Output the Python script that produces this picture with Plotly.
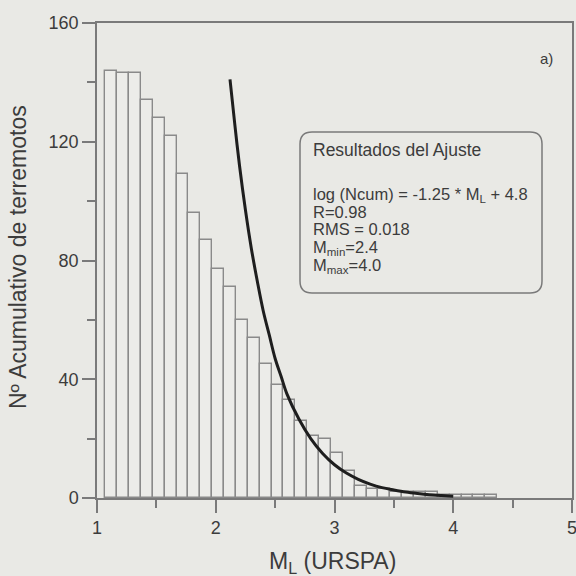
import plotly.graph_objects as go

# Cumulative histogram (bins of 0.1 in ML)
magnitudes = [1.1, 1.2, 1.3, 1.4, 1.5, 1.6, 1.7, 1.8, 1.9, 2.0,
              2.1, 2.2, 2.3, 2.4, 2.5, 2.6, 2.7, 2.8, 2.9, 3.0,
              3.1, 3.2, 3.3, 3.4, 3.5, 3.6, 3.7, 3.8, 3.9, 4.0,
              4.1, 4.2, 4.3]
cumulative_counts = [144, 143, 143, 134, 128, 122, 109, 96, 87, 77,
                     71, 60, 54, 45, 38, 33, 26, 21, 20, 15,
                     9, 4, 3, 3, 2, 2, 2, 2, 1, 1,
                     1, 1, 1]

# Fitted Gutenberg-Richter curve
fit_m = [2.12, 2.16, 2.2, 2.25, 2.3, 2.35, 2.4, 2.45, 2.5, 2.55, 2.6, 2.7, 2.8, 2.9,
         3.0, 3.1, 3.2, 3.3, 3.4, 3.5, 3.6, 3.7, 3.8, 3.9, 4.0]
fit_n = [141, 126, 112, 97, 84, 73, 63, 55, 47, 41, 35, 26.6, 20, 15,
         11.2, 8.4, 6.3, 4.7, 3.5, 2.7, 2.0, 1.5, 1.1, 0.84, 0.63]

x_ticks = [1, 2, 3, 4, 5]
y_ticks = [0, 40, 80, 120, 160]

box_lines = ["log (Ncum) = -1.25 * M<sub>L</sub> + 4.8", "R=0.98", "RMS = 0.018",
             "M<sub>min</sub>=2.4", "M<sub>max</sub>=4.0"]

BG = "#e9e9e5"
AX = "#7a7a7a"
TXT = "#3c3c3c"
FONT = "Liberation Sans, Arial, sans-serif"

fig = go.Figure()
fig.add_trace(go.Bar(
    x=magnitudes, y=cumulative_counts, width=0.1, offset=-0.03,
    marker=dict(color="#ecece9", line=dict(color="#8a8a8a", width=1.4)),
    showlegend=False, hoverinfo="skip"))
fig.add_trace(go.Scatter(
    x=fit_m, y=fit_n, mode="lines", line=dict(color="#1e1e1e", width=3, shape="spline"),
    showlegend=False, hoverinfo="skip"))

W, H = 576, 576
ml, mr, mt, mb = 97, 4, 23, 78
pw, ph = W - ml - mr, H - mt - mb

def px(x):
    return (x - ml) / pw

def py(y):
    return (H - mb - y) / ph

axis_common = dict(showgrid=False, zeroline=False, showline=True, linecolor=AX, linewidth=1.5,
                   mirror=True, ticks="outside", ticklen=13, tickcolor=AX, tickwidth=1.5,
                   tickfont=dict(size=18, color=TXT), automargin=False,
                   ticklabeloverflow="allow")

fig.update_layout(
    width=W, height=H,
    margin=dict(l=ml, r=mr, t=mt, b=mb),
    paper_bgcolor=BG, plot_bgcolor=BG,
    bargap=0,
    font=dict(family=FONT, color=TXT, size=18),
    xaxis=dict(range=[1, 5], tickvals=x_ticks, ticktext=[str(v) for v in x_ticks],
               minor=dict(dtick=0.5, ticks="outside", ticklen=8, tickcolor=AX, tickwidth=1.5),
               **axis_common),
    yaxis=dict(range=[0, 160], tickvals=y_ticks, ticktext=[str(v) for v in y_ticks],
               minor=dict(dtick=20, ticks="outside", ticklen=8, tickcolor=AX, tickwidth=1.5),
               **axis_common),
)

# rounded box
x0, x1 = px(300), px(542)
y0, y1 = py(293), py(132)
rx, ry = 12 / pw, 12 / ph
path = (f"M {x0+rx},{y1} L {x1-rx},{y1} Q {x1},{y1} {x1},{y1-ry} "
        f"L {x1},{y0+ry} Q {x1},{y0} {x1-rx},{y0} L {x0+rx},{y0} "
        f"Q {x0},{y0} {x0},{y0+ry} L {x0},{y1-ry} Q {x0},{y1} {x0+rx},{y1} Z")
fig.add_shape(type="path", path=path, xref="paper", yref="paper",
              line=dict(color=AX, width=1.5), fillcolor="rgba(0,0,0,0)")

ann = []
ann.append(dict(text="Resultados del Ajuste", x=px(311), y=py(150), xanchor="left",
                yanchor="middle", font=dict(size=17.5)))
ys = [195, 212, 229, 248, 266]
for t, yy in zip(box_lines, ys):
    ann.append(dict(text=t, x=px(311), y=py(yy), xanchor="left", yanchor="middle",
                    font=dict(size=16.5)))
ann.append(dict(text="a)", x=px(546), y=py(59), xanchor="center", yanchor="middle",
                font=dict(size=15)))
ann.append(dict(text="M<sub>L</sub> (URSPA)", x=px(332), y=py(562), xanchor="center",
                yanchor="middle", font=dict(size=23)))
ann.append(dict(text="Nº Acumulativo de terremotos", x=px(18), y=py(257), xanchor="center",
                yanchor="middle", textangle=-90, font=dict(size=23)))
for a in ann:
    a.update(xref="paper", yref="paper", showarrow=False)
    fig.add_annotation(**a)

fig.write_html("out.html")
